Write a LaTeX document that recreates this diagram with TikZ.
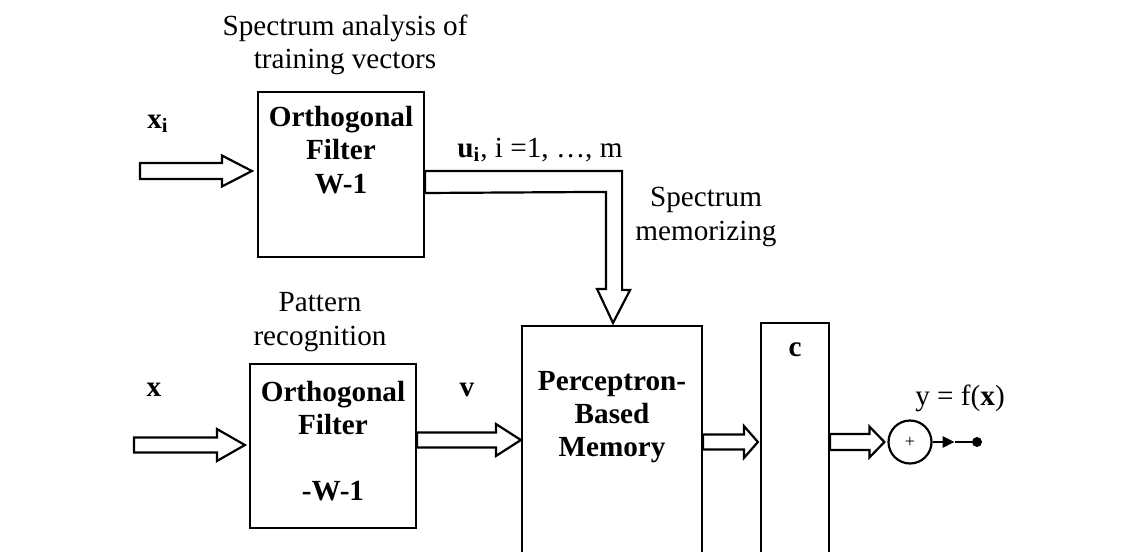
\documentclass[tikz,border=0pt]{standalone}
\usepackage{fontspec}
\setmainfont{Liberation Serif}
\usetikzlibrary{calc,arrows.meta}
\newcommand\fatarrow[5]{%
  \draw[fat] let \p1=(#1), \p2=(#2) in
    (\x1,\y1+#3) -- (\x2-#5,\y1+#3) -- (\x2-#5,\y1+#4) -- (\x2,\y1)
    -- (\x2-#5,\y1-#4) -- (\x2-#5,\y1-#3) -- (\x1,\y1-#3) -- cycle;}
\begin{document}
\begin{tikzpicture}[x=0.5pt,y=-0.5pt,
  every node/.style={font=\fontsize{14.6}{16.6}\selectfont, inner sep=0pt},
  blk/.style={draw, line width=1.1pt, rectangle, inner sep=0pt},
  fat/.style={draw, line width=1.1pt, fill=white, line join=miter},
  lbl/.style={align=center}]
\clip (0,0) rectangle (1143,551);
\fill[white] (0,0) rectangle (1143,551);
% blocks
\node[blk, minimum width=83pt, minimum height=82.5pt] (f1) at (341,174.5) {};
\node[blk, minimum width=83pt, minimum height=82pt] (f2) at (333,446) {};
\node[blk, minimum width=90pt, minimum height=137pt] (m) at (612,463) {};
\node[blk, minimum width=34pt, minimum height=138.5pt] (c) at (795,461.5) {};
\node[draw, line width=1.1pt, circle, minimum size=21.5pt] (circ) at (910,442) {\fontsize{9}{10}\selectfont +};
\node[fill, circle, minimum size=5pt] (dot) at (977,442) {};
% block texts
\node[lbl, font=\fontsize{14.6}{16.6}\selectfont\bfseries] (f1t) at (341,150) {Orthogonal\\Filter\\W-1};
\node[lbl, font=\fontsize{14.6}{16.6}\selectfont\bfseries] (f2t) at (333,441) {Orthogonal\\Filter\\\mbox{}\\-W-1};
\node[lbl, font=\fontsize{14.6}{16.6}\selectfont\bfseries] (mt) at (612,417) {Perceptron-\\Based\\Memory};
\node[font=\fontsize{14.6}{16.6}\selectfont\bfseries] (ct) at (795,350) {c};
% free labels
\node[lbl] (top) at (345,45) {Spectrum analysis of\\training vectors};
\node[lbl] (pat) at (320,322) {Pattern\\recognition};
\node[lbl] (mem) at (706,217) {Spectrum\\memorizing};
\node (xi) at (158,124) {\textbf{x\textsubscript{i}}};
\node (xl) at (154,390) {\textbf{x}};
\node (vl) at (467,390) {\textbf{v}};
\node[anchor=base west] (ul) at (457,157) {\textbf{u\textsubscript{i}}, i =1, …, m};
\node (yl) at (960,398) {y = f(\textbf{x})};
% arrows
\coordinate (xiin) at (140,171);
\coordinate (xitip) at ($(f1.west)+(-5,-3.5)$);
\fatarrow{xiin}{xitip}{4pt}{7.75pt}{15pt}
\coordinate (xin) at (134,445);
\coordinate (xtip) at ($(f2.west)+(-4,-1)$);
\fatarrow{xin}{xtip}{3.75pt}{8pt}{14pt}
\coordinate (vs) at ($(f2.east)+(0,-6)$);
\fatarrow{vs}{m.west|-vs}{3.75pt}{8pt}{12.5pt}
\coordinate (ms) at ($(m.east)+(0,-21)$);
\coordinate (mtip) at ($(c.west|-ms)+(-2,0)$);
\fatarrow{ms}{mtip}{3.75pt}{8pt}{7pt}
\coordinate (cs) at ($(c.east)+(0,-19.5)$);
\coordinate (ctip) at ($(circ.west|-cs)+(-3,0)$);
\fatarrow{cs}{ctip}{4pt}{7.75pt}{7.5pt}
% u output arrow
\coordinate (uA) at ($(f1.east)+(0,-3.5)$);
\coordinate (uT) at ($(m.north)+(1,-2)$);
\draw[fat] (uA) -- ++(197,0) -- ++(0,119) -- ++(8,0) -- (uT) -- ++(-16,-34)
  -- ++(9,0) -- ++(0,-97) -- ($(uA)+(0,22)$) -- cycle;
% output
\coordinate (ah) at ($(circ.east)+(22,0)$);
\draw[line width=1.1pt, -{Triangle[length=6pt,width=5.5pt]}] (circ) -- (ah);
\draw[line width=1.1pt] (ah) -- (dot);
\end{tikzpicture}
\end{document}
